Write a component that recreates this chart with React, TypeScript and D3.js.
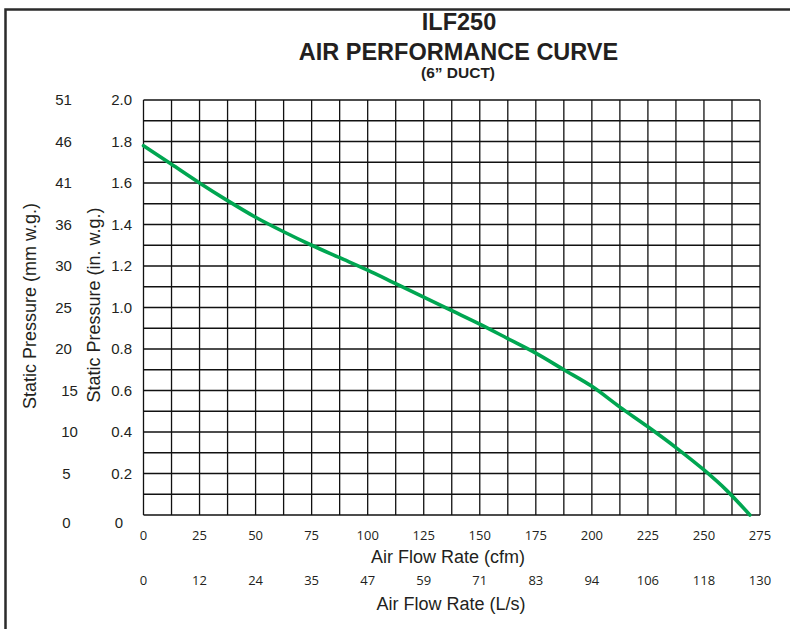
import React from 'react';
import * as d3 from 'd3';

// curve (cfm vs in. w.g.)
const flowCfm = [0, 12.5, 25, 37.5, 50, 62.5, 75, 87.5, 100, 112.5, 125, 137.5, 150, 162.5, 175, 187.5, 200, 212.5, 225, 237.5, 250, 260, 270.5];
const pressureIn = [1.78, 1.69, 1.6, 1.515, 1.435, 1.365, 1.3, 1.24, 1.18, 1.115, 1.05, 0.985, 0.92, 0.85, 0.78, 0.7, 0.62, 0.52, 0.425, 0.325, 0.217, 0.12, 0.0];

const cfmTicks = [0, 25, 50, 75, 100, 125, 150, 175, 200, 225, 250, 275];
const lpsLabels = ['0', '12', '24', '35', '47', '59', '71', '83', '94', '106', '118', '130'];
const inTicks = [0, 0.2, 0.4, 0.6, 0.8, 1.0, 1.2, 1.4, 1.6, 1.8, 2.0];
const mmLabels = ['0', '5', '10', '15', '20', '25', '30', '36', '41', '46', '51'];

const W = 790;
const H = 629;
const margin = { left: 143.5, right: 30, top: 100, bottom: 114 };

export default function App() {
  const x = d3.scaleLinear().domain([0, 275]).range([margin.left, W - margin.right]);
  const y = d3.scaleLinear().domain([0, 2]).range([H - margin.bottom, margin.top]);

  const vGrid = d3.range(0, 275.01, 12.5);
  const hGrid = d3.range(0, 2.001, 0.1);

  const line = d3.line<number>()
    .x((_, i) => x(flowCfm[i]))
    .y(d => y(d))
    .curve(d3.curveMonotoneX);

  const sans = '"Liberation Sans", Arial, Helvetica, sans-serif';
  const open = '"Open Sans", sans-serif';

  return (
    <svg width={W} height={H} style={{ display: 'block' }}>
      <style>{`body{margin:0}`}</style>
      <rect width={W} height={H} fill="#fff" />
      {/* outer frame */}
      <path d={`M5.5,${H + 5} V9.5 H${W + 5}`} fill="none" stroke="#2b2b2b" strokeWidth={2.5} />

      <text x={459} y={30} textAnchor="middle" fontFamily={sans} fontWeight="bold" fontSize={23.5} fill="#231f20">ILF250</text>
      <text x={458.5} y={60} textAnchor="middle" fontFamily={sans} fontWeight="bold" fontSize={23.5} fill="#231f20">AIR PERFORMANCE CURVE</text>
      <text x={458} y={77.5} textAnchor="middle" fontFamily={sans} fontWeight="bold" fontSize={15.5} fill="#231f20">(6” DUCT)</text>

      <g stroke="#111" strokeWidth={1.3}>
        {vGrid.map(v => (
          <line key={'v' + v} x1={x(v)} x2={x(v)} y1={y(0)} y2={y(2)} />
        ))}
        {hGrid.map(v => (
          <line key={'h' + v.toFixed(1)} x1={x(0)} x2={x(275)} y1={y(v)} y2={y(v)} />
        ))}
      </g>

      <path d={line(pressureIn) || ''} fill="none" stroke="#00a651" strokeWidth={3.6} strokeLinecap="round" />

      {/* left tick labels */}
      <g fontFamily={sans} fontSize={15} fill="#231f20">
        {inTicks.map((t, i) => (
          <text key={'in' + i}
            x={t === 0 ? 119 : 132}
            y={y(t) + (t === 0 ? 8 : 0)}
            dy="0.36em"
            textAnchor={t === 0 ? 'middle' : 'end'}>
            {t === 0 ? '0' : d3.format('.1f')(t)}
          </text>
        ))}
        {mmLabels.map((m, i) => (
          <text key={'mm' + i}
            x={i === 0 || i === 1 ? 66.5 : i < 4 ? 69.5 : 63.5}
            y={y(inTicks[i]) + (i === 0 ? 8 : 0)}
            dy="0.36em"
            textAnchor="middle">
            {m}
          </text>
        ))}
      </g>

      <text transform="translate(36,306) rotate(-90)" textAnchor="middle" fontFamily={sans} fontSize={18} fill="#231f20">Static Pressure (mm w.g.)</text>
      <text transform="translate(100,305) rotate(-90)" textAnchor="middle" fontFamily={sans} fontSize={18} fill="#231f20">Static Pressure (in. w.g.)</text>

      {/* bottom tick labels */}
      <g fontFamily={open} fontSize={13} fill="#231f20" textAnchor="middle">
        {cfmTicks.map(t => (
          <text key={'c' + t} x={x(t)} y={535} dy="0.36em">{t}</text>
        ))}
        {lpsLabels.map((l, i) => (
          <text key={'l' + i} x={x(cfmTicks[i])} y={580} dy="0.36em">{l}</text>
        ))}
      </g>

      <text x={448} y={563} textAnchor="middle" fontFamily={sans} fontSize={18} fill="#231f20">Air Flow Rate (cfm)</text>
      <text x={451} y={610} textAnchor="middle" fontFamily={sans} fontSize={18} fill="#231f20">Air Flow Rate (L/s)</text>
    </svg>
  );
}
